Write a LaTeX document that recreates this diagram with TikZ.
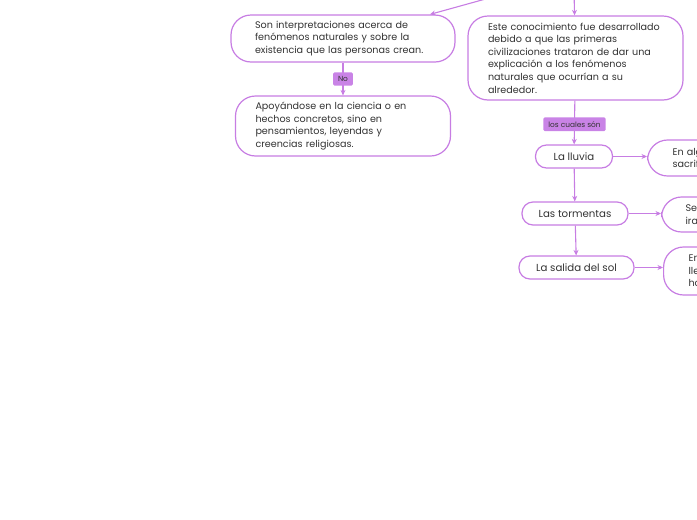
\documentclass[tikz,border=0pt]{standalone}
\usepackage{fontspec}
\setmainfont{Poppins}
\usepackage{tikz}
\usetikzlibrary{arrows.meta,positioning}
\definecolor{MapPurple}{HTML}{C77DE3}
\definecolor{TagFill}{HTML}{C983E6}
\definecolor{MapText}{HTML}{333333}
\tikzset{
  textbox/.style={rectangle,rounded corners=20pt,draw=MapPurple,line width=1.2pt,fill=white,text=MapText,align=left,inner xsep=20pt,inner ysep=4pt,font=\fontsize{9.6}{12.6}\selectfont},
  topic/.style={rectangle,rounded corners=11pt,draw=MapPurple,line width=1.2pt,fill=white,text=MapText,minimum height=23pt,inner xsep=12pt,font=\fontsize{10.2}{11}\selectfont},
  tag/.style={rectangle,rounded corners=1.5pt,fill=TagFill,text=MapText,inner xsep=5pt,inner ysep=4pt,font=\fontsize{7.4}{8}\selectfont},
  arrow/.style={-{Stealth[length=5.5pt,width=5pt]},line width=1.1pt,color=MapPurple},
}

\begin{document}
\begin{tikzpicture}[x=1pt,y=1pt]
  \useasboundingbox (0,0) rectangle (697,-520);
  \clip (0,0) rectangle (697,-520);

  % Left branch
  \node[textbox, text width=176pt, inner xsep=24pt, minimum height=47pt] (interp) at (343,-38.5)
    {Son interpretaciones acerca de\\fenómenos naturales y sobre la\\existencia que las personas crean.};
  \node[textbox, text width=175pt, minimum height=60pt] (apoyo) at (343,-126)
    {Apoyándose en la ciencia o en\\hechos concretos, sino en\\pensamientos, leyendas y\\creencias religiosas.};

  % Right branch
  \node[textbox, text width=175pt, minimum height=84pt] (conoc) at (575.5,-58)
    {Este conocimiento fue desarrollado\\debido a que las primeras\\civilizaciones trataron de dar una\\explicación a los fenómenos\\naturales que ocurrían a su\\alrededor.};
  \node[topic, minimum width=77pt] (lluvia) at (574,-156.5) {La lluvia};
  \node[topic, minimum width=106pt] (torm) at (575,-213.5) {Las tormentas};
  \node[topic, minimum width=115pt] (sol) at (576.5,-267.5) {La salida del sol};

  % Cut-off boxes at the right edge
  \node[textbox, anchor=west, text width=120pt, inner xsep=25pt, minimum height=36pt] (sacri) at (647,-158)
    {En alg\\sacrifi};
  \node[textbox, anchor=west, text width=120pt, inner xsep=24pt, minimum height=35pt] (ira) at (661,-214.5)
    {Se\\ira};
  \node[textbox, anchor=west, text width=120pt, inner xsep=25pt, minimum height=48pt] (horas) at (663,-271)
    {En\\lle\\ho};

  % Incoming from the root above
  \coordinate (rootL) at (518,10);
  \coordinate (rootR) at (574,10);
  \draw[arrow] (rootL) -- (interp);
  \draw[arrow] (rootR) -- (conoc);

  % Arrows left
  \draw[arrow] (interp) -- node[tag]{No} (apoyo);
  % Arrows right
  \draw[arrow] (conoc) -- node[tag, pos=0.54]{los cuales són} (lluvia);
  \draw[arrow] (lluvia) -- (torm);
  \draw[arrow] (torm) -- (sol);
  \draw[arrow] (lluvia) -- (lluvia -| sacri.west);
  \draw[arrow] (torm) -- (torm -| ira.west);
  \draw[arrow] (sol) -- (sol -| horas.west);
\end{tikzpicture}
\end{document}
